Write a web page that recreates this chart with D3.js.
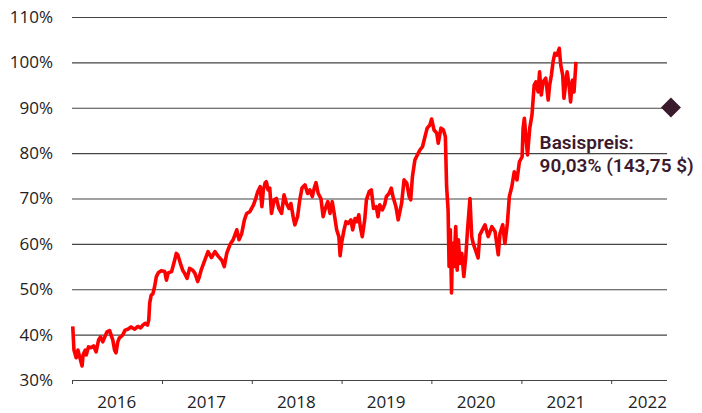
<!DOCTYPE html>
<html>
<head>
<meta charset="utf-8">
<script src="https://cdn.jsdelivr.net/npm/d3@7"></script>
<style>
  body { margin: 0; background: #fff; }
</style>
</head>
<body>
<div id="chart"></div>
<script>
// price level in % of start value
var level2016 = [["2016-01-04",41.8],["2016-01-09",36.6],["2016-01-18",34.9],["2016-01-25",36.6],["2016-02-01",35.1],["2016-02-11",33.1],["2016-02-15",35.5],["2016-02-24",36.6],["2016-02-28",35.5],["2016-03-08",37.3],["2016-03-18",37.1],["2016-03-29",37.5],["2016-04-08",36.2],["2016-04-18",38.8],["2016-04-26",39.5],["2016-05-05",38.4],["2016-05-12",39.3],["2016-05-22",40.6],["2016-06-02",40.9],["2016-06-08",39.9],["2016-06-15",38.8],["2016-06-22",36.6],["2016-06-28",36.0],["2016-07-05",38.4],["2016-07-12",39.3],["2016-07-25",39.9],["2016-08-04",41.0],["2016-08-15",41.2],["2016-08-28",41.7],["2016-09-12",41.2],["2016-09-25",41.8],["2016-10-06",41.5],["2016-10-15",42.1],["2016-10-24",42.5],["2016-11-03",42.1],["2016-11-08",43.2],["2016-11-12",47.0],["2016-11-18",48.7],["2016-11-25",49.0],["2016-12-02",50.6],["2016-12-09",52.8],["2016-12-18",53.7],["2016-12-29",54.1]];
var level2017 = [["2017-01-12",53.9],["2017-01-19",52.0],["2017-01-26",53.6],["2017-02-09",53.9],["2017-02-20",56.1],["2017-02-28",57.9],["2017-03-06",57.6],["2017-03-13",56.4],["2017-03-19",55.3],["2017-03-26",54.2],["2017-04-03",53.5],["2017-04-13",52.4],["2017-04-23",54.6],["2017-05-06",54.2],["2017-05-15",53.5],["2017-05-26",51.7],["2017-06-02",52.8],["2017-06-09",54.2],["2017-06-24",56.4],["2017-07-07",58.3],["2017-07-21",57.0],["2017-08-04",58.3],["2017-08-17",57.3],["2017-09-01",56.4],["2017-09-11",55.0],["2017-09-21",57.9],["2017-10-04",59.8],["2017-10-17",60.9],["2017-11-01",63.1],["2017-11-10",60.9],["2017-11-21",62.3],["2017-12-02",65.3],["2017-12-11",66.7],["2017-12-24",67.1]];
var level2018 = [["2018-01-08",68.6],["2018-01-17",70.0],["2018-01-25",71.5],["2018-02-04",72.6],["2018-02-11",68.2],["2018-02-17",71.9],["2018-02-24",73.4],["2018-03-01",73.7],["2018-03-08",71.9],["2018-03-15",72.3],["2018-03-22",66.7],["2018-04-02",69.7],["2018-04-11",70.0],["2018-04-21",67.8],["2018-05-02",66.7],["2018-05-12",70.8],["2018-05-22",68.9],["2018-06-01",67.8],["2018-06-09",68.9],["2018-06-18",66.0],["2018-06-25",64.2],["2018-07-06",66.0],["2018-07-15",69.7],["2018-07-24",72.3],["2018-08-05",73.0],["2018-08-16",71.1],["2018-08-25",71.9],["2018-09-04",70.4],["2018-09-12",72.3],["2018-09-19",73.5],["2018-09-28",71.1],["2018-10-09",70.0],["2018-10-18",66.0],["2018-10-25",67.5],["2018-11-06",69.3],["2018-11-15",66.7],["2018-11-24",69.3],["2018-12-02",66.7],["2018-12-12",63.1],["2018-12-21",61.6],["2018-12-26",57.4]];
var level2019 = [["2019-01-02",60.5],["2019-01-11",63.1],["2019-01-19",64.9],["2019-01-28",64.5],["2019-02-08",65.3],["2019-02-15",63.1],["2019-02-25",65.6],["2019-03-04",64.9],["2019-03-12",66.4],["2019-03-18",63.8],["2019-03-26",61.6],["2019-04-05",65.3],["2019-04-12",69.7],["2019-04-23",71.5],["2019-05-02",71.9],["2019-05-11",67.8],["2019-05-22",68.2],["2019-05-29",66.0],["2019-06-05",68.6],["2019-06-16",67.5],["2019-06-25",68.6],["2019-07-02",70.4],["2019-07-13",71.1],["2019-07-22",72.3],["2019-07-29",70.4],["2019-08-10",68.2],["2019-08-19",65.3],["2019-08-26",67.1],["2019-09-02",68.9],["2019-09-12",74.1],["2019-09-23",73.4],["2019-10-03",70.4],["2019-10-09",69.7],["2019-10-16",74.8],["2019-10-26",78.5],["2019-11-05",79.6],["2019-11-16",80.7],["2019-11-26",81.4],["2019-12-06",83.6],["2019-12-15",85.5],["2019-12-26",86.2]];
var level2020 = [["2020-01-02",87.5],["2020-01-12",85.1],["2020-01-23",84.4],["2020-01-29",82.2],["2020-02-09",85.5],["2020-02-19",85.1],["2020-02-27",83.6],["2020-03-03",72.6],["2020-03-09",67.5],["2020-03-13",55.0],["2020-03-18",63.1],["2020-03-23",49.2],["2020-03-27",60.1],["2020-04-02",55.0],["2020-04-09",63.8],["2020-04-15",54.2],["2020-04-20",60.9],["2020-04-26",55.7],["2020-05-04",57.9],["2020-05-12",52.8],["2020-05-20",57.2],["2020-05-27",63.1],["2020-06-06",70.0],["2020-06-13",61.6],["2020-06-19",60.1],["2020-07-03",57.9],["2020-07-09",56.9],["2020-07-16",62.0],["2020-08-06",64.2],["2020-08-19",61.6],["2020-09-03",63.8],["2020-09-16",62.7],["2020-09-29",57.6],["2020-10-06",62.3],["2020-10-17",64.2],["2020-10-26",60.1],["2020-11-05",64.5],["2020-11-13",70.4],["2020-11-23",72.6],["2020-12-03",75.9],["2020-12-14",74.1],["2020-12-24",78.1]];
var level2021 = [["2021-01-04",79.2],["2021-01-08",85.5],["2021-01-13",87.7],["2021-01-21",82.5],["2021-01-26",79.6],["2021-02-04",85.5],["2021-02-13",88.4],["2021-02-22",95.0],["2021-03-01",95.7],["2021-03-10",93.5],["2021-03-16",97.9],["2021-03-23",92.8],["2021-03-30",95.7],["2021-04-10",96.5],["2021-04-20",91.7],["2021-04-26",95.0],["2021-05-03",97.2],["2021-05-10",100.2],["2021-05-17",102.0],["2021-05-26",101.6],["2021-06-04",103.1],["2021-06-10",99.4],["2021-06-18",97.2],["2021-06-23",92.1],["2021-07-01",95.7],["2021-07-06",97.9],["2021-07-14",95.0],["2021-07-20",91.3],["2021-07-28",96.1],["2021-08-03",93.5],["2021-08-11",100.1]];

var years = ["2016","2017","2018","2019","2020","2021","2022"];
var yTicks = [30,40,50,60,70,80,90,100,110];
var dateRange = ["2016-01-01","2022-08-16"];

var strikeDate = "2022-09-01";
var strikeLevel = 90.03;
var strikeLabel = ["Basispreis:", "90,03% (143,75 $)"];
var labelDate = "2021-03-16";
var labelLevel = 81;

var width = 702;
var height = 413;
var margin = {top: 17, left: 72, right: 35, bottom: 33};
var font = "'Open Sans', sans-serif";
var dark = "#3c1a2e";

var parse = d3.timeParse("%Y-%m-%d");
var data = [].concat(level2016, level2017, level2018, level2019, level2020, level2021)
  .map(function(d) { return {date: parse(d[0]), value: d[1]}; });

var svg = d3.select("#chart")
  .append("svg")
  .attr("width", width)
  .attr("height", height);

var xScale = d3.scaleTime()
  .domain(dateRange.map(parse))
  .range([margin.left, width - margin.right]);

var yScale = d3.scaleLinear()
  .domain([30, 110])
  .range([height - margin.bottom, margin.top]);

// gridlines + y labels
var yAxis = svg.append("g")
  .attr("transform", `translate(${margin.left},0)`)
  .call(d3.axisLeft(yScale)
    .tickValues(yTicks)
    .tickSize(-(width - margin.left - margin.right))
    .tickPadding(19)
    .tickFormat(function(d) { return d + "%"; }))
  .attr("font-family", font)
  .attr("font-size", 17);
yAxis.select(".domain").remove();
yAxis.selectAll(".tick line").attr("stroke", "#444").attr("stroke-width", 1.1);
yAxis.selectAll(".tick text").attr("fill", "#222");

// year ticks
var yearStarts = years.map(function(y) { return parse(y + "-01-01"); });
var xAxis = svg.append("g")
  .attr("transform", `translate(0,${height - margin.bottom})`)
  .call(d3.axisBottom(xScale)
    .tickValues(yearStarts)
    .tickSize(4)
    .tickFormat(""));
xAxis.select(".domain").remove();
xAxis.selectAll(".tick line").attr("stroke", "#444");

// year labels centred on mid-year
var xEnd = xScale.range()[1];
svg.append("g")
  .selectAll("text")
  .data(years)
  .enter()
  .append("text")
    .attr("x", function(d) { return xScale(parse(d + "-07-01")); })
    .attr("y", height - margin.bottom + 28)
    .attr("text-anchor", "middle")
    .attr("font-family", font)
    .attr("font-size", 17)
    .attr("fill", "#222")
    .text(function(d) { return d; })
    .each(function() {
      var w = this.getComputedTextLength();
      var cx = +this.getAttribute("x");
      if (cx + w / 2 > xEnd) this.setAttribute("x", xEnd - w / 2);
    });

// price line
var line = d3.line()
  .x(function(d) { return xScale(d.date); })
  .y(function(d) { return yScale(d.value); });

svg.append("path")
  .datum(data)
  .attr("d", line)
  .attr("fill", "none")
  .attr("stroke", "#ff0000")
  .attr("stroke-width", 3.6)
  .attr("stroke-linejoin", "round");

// strike marker
svg.append("path")
  .attr("d", d3.symbol(d3.symbolSquare, 200)())
  .attr("transform", `translate(${xScale(parse(strikeDate))},${yScale(strikeLevel)}) rotate(45)`)
  .attr("fill", dark);

// strike label, one text per line
svg.append("g")
  .selectAll("text")
  .data(strikeLabel)
  .enter()
  .append("text")
    .attr("x", xScale(parse(labelDate)))
    .attr("y", function(d, i) { return yScale(labelLevel) + i * 23; })
    .attr("font-family", "Roboto, sans-serif")
    .attr("font-size", 19)
    .attr("font-weight", 600)
    .attr("fill", dark)
    .text(function(d) { return d; });
</script>
</body>
</html>
